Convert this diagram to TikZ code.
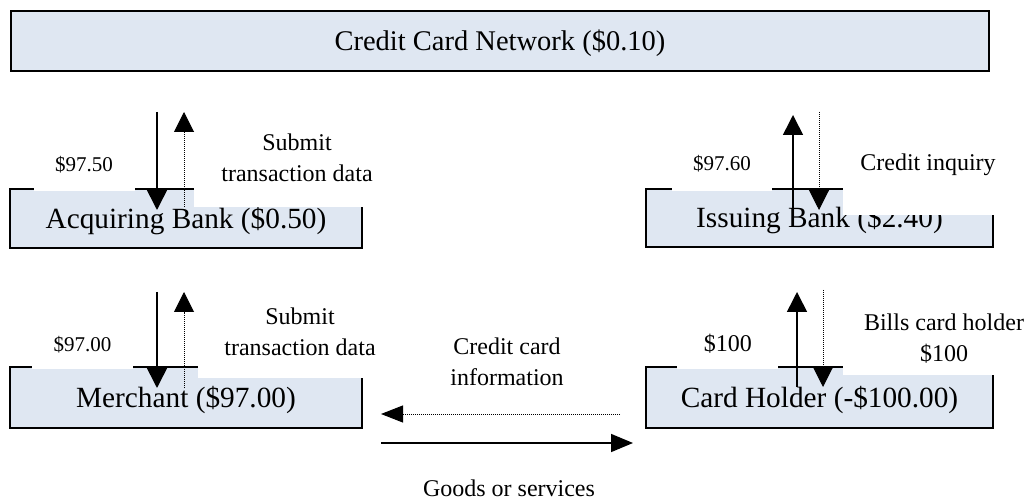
\documentclass[tikz,border=0pt]{standalone}
\usepackage{fontspec}
\setmainfont{Liberation Serif}
\usetikzlibrary{arrows.meta}
\definecolor{boxfill}{RGB}{223,231,242}
\begin{document}
\begin{tikzpicture}[x=1pt,y=-1pt,
  box/.style={draw=black,line width=2pt,fill=boxfill,rectangle,inner sep=0pt,
    text depth=2pt,font=\fontsize{29.3}{34}\selectfont},
  lbl/.style={inner sep=0pt,anchor=base,align=center,font=\fontsize{24}{31}\selectfont},
  small/.style={inner sep=0pt,anchor=base,font=\fontsize{21}{25}\selectfont},
  cover/.style={fill=white},
  flow/.style={line width=1.6pt,-{Triangle[width=20pt,length=20pt]}},
  info/.style={line width=1pt,dash pattern=on 1pt off 1pt,-{Triangle[width=20pt,length=20pt]}},
  hflow/.style={line width=1.6pt,-{Triangle[width=18pt,length=22pt]}},
  hinfo/.style={line width=1pt,dash pattern=on 1pt off 1pt,-{Triangle[width=17pt,length=22pt]}},
]
\useasboundingbox (0,0) rectangle (1027,502);

% boxes
\node[box,minimum width=978pt,minimum height=60pt,font=\fontsize{28.5}{34}\selectfont] (net) at (500,41) {Credit Card Network (\$0.10)};
\node[box,minimum width=352pt,minimum height=59pt] (acq) at (186,218.5) {Acquiring Bank (\$0.50)};
\node[box,minimum width=347pt,minimum height=58pt] (iss) at (819.5,218) {Issuing Bank (\$2.40)};
\node[box,minimum width=352pt,minimum height=61pt] (mer) at (186,397.5) {Merchant (\$97.00)};
\node[box,minimum width=347pt,minimum height=61pt] (hol) at (819.5,397.5) {Card Holder (-\$100.00)};

% white label backgrounds
\fill[cover] (34,130) rectangle (135,190.6);
\fill[cover] (194,120) rectangle (400,207);
\fill[cover] (672,130) rectangle (772,190.6);
\fill[cover] (843,130) rectangle (1027,215);
\fill[cover] (32,310) rectangle (133,368.6);
\fill[cover] (198,300) rectangle (400,378);
\fill[cover] (677,310) rectangle (778,368.6);
\fill[cover] (843,300) rectangle (1027,375);

% labels
\node[small] (l1) at (84,171.5) {\$97.50};
\node[lbl] (l2) at (297,181.7) {Submit\\transaction data};
\node[small] (l3) at (722,170.7) {\$97.60};
\node[lbl] (l4) at (928,170.7) {Credit inquiry};
\node[small] (l5) at (82.5,351.7) {\$97.00};
\node[lbl] (l6) at (300,355) {Submit\\transaction data};
\node[lbl] (l7) at (727.8,351.7) {\$100};
\node[lbl] (l8) at (944,361.7) {Bills card holder\\\$100};
\node[lbl] (l9) at (507,385) {Credit card\\information};
\node[lbl] (l10) at (509,496) {Goods or services};

% arrow end points
\coordinate (a1) at (157,112); \coordinate (a2) at (157,210);
\coordinate (a3) at (184,207); \coordinate (a4) at (184,112);
\coordinate (b1) at (793,218); \coordinate (b2) at (793,115);
\coordinate (b3) at (819,112); \coordinate (b4) at (819,210);
\coordinate (c1) at (157,292); \coordinate (c2) at (157,388);
\coordinate (c3) at (184,388); \coordinate (c4) at (184,292);
\coordinate (d1) at (797,387); \coordinate (d2) at (797,292);
\coordinate (d3) at (823,290); \coordinate (d4) at (823,387);
\coordinate (e1) at (620,414); \coordinate (e2) at (381,414);
\coordinate (f1) at (381,443); \coordinate (f2) at (633,443);

% arrows
\draw[flow] (a1) -- (a2);
\draw[info] (a3) -- (a4);
\draw[flow] (b1) -- (b2);
\draw[info] (b3) -- (b4);
\draw[flow] (c1) -- (c2);
\draw[info] (c3) -- (c4);
\draw[flow] (d1) -- (d2);
\draw[info] (d3) -- (d4);
\draw[hinfo] (e1) -- (e2);
\draw[hflow] (f1) -- (f2);
\end{tikzpicture}
\end{document}
